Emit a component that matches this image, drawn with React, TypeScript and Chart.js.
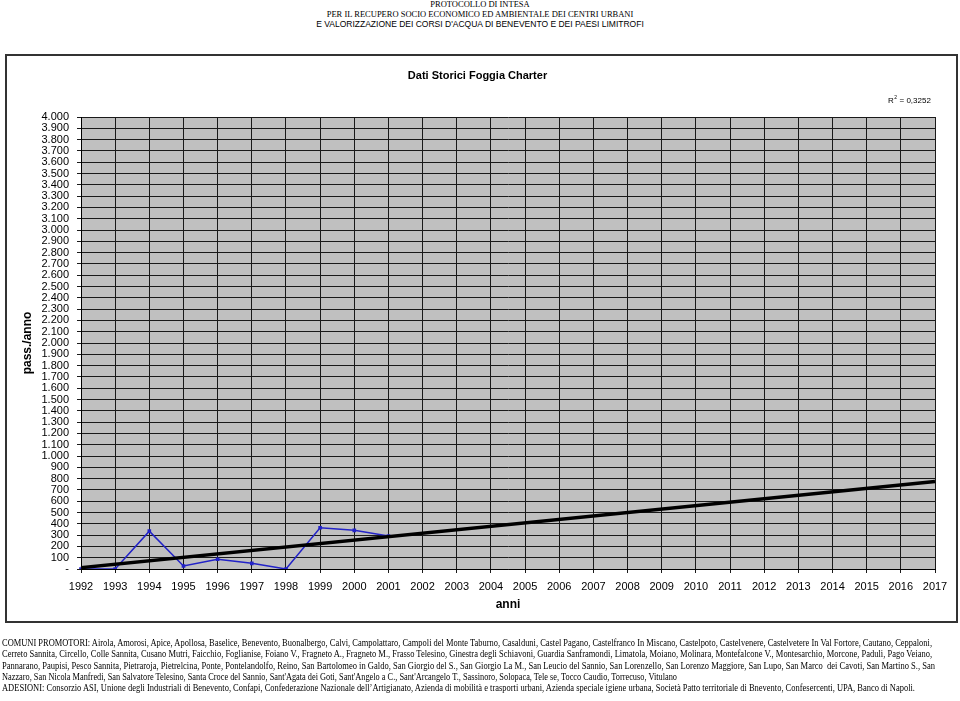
import React, { useEffect, useLayoutEffect, useRef } from 'react';
import { Chart, registerables } from 'chart.js';

Chart.register(...registerables);

// ---- data ----
const years = [
  '1992', '1993', '1994', '1995', '1996', '1997', '1998', '1999', '2000', '2001', '2002', '2003', '2004',
  '2005', '2006', '2007', '2008', '2009', '2010', '2011', '2012', '2013', '2014', '2015', '2016', '2017',
];
const passengers = [0, 0, 335, 27, 86, 50, 0, 365, 342, 292];
const trendEnds = [12, 775];
const rSquared = '0,3252';
const yMin = 0;
const yMax = 4000;
const yStep = 100;

const chartTitle = 'Dati Storici Foggia Charter';
const xTitle = 'anni';
const yTitle = 'pass./anno';

const headerLines = [
  'PROTOCOLLO DI INTESA',
  'PER IL RECUPERO SOCIO ECONOMICO ED AMBIENTALE DEI CENTRI URBANI',
  "E VALORIZZAZIONE DEI CORSI D'ACQUA DI BENEVENTO E DEI PAESI LIMITROFI",
];

const footerLines = [
  'COMUNI PROMOTORI: Airola, Amorosi, Apice, Apollosa, Baselice, Benevento, Buonalbergo, Calvi, Campolattaro, Campoli del Monte Taburno, Casalduni, Castel Pagano, Castelfranco In Miscano, Castelpoto, Castelvenere, Castelvetere In Val Fortore, Cautano, Ceppaloni,',
  'Cerreto Sannita, Circello, Colle Sannita, Cusano Mutri, Faicchio, Foglianise, Foiano V., Fragneto A., Fragneto M., Frasso Telesino, Ginestra degli Schiavoni, Guardia Sanframondi, Limatola, Moiano, Molinara, Montefalcone V., Montesarchio, Morcone, Paduli, Pago Veiano,',
  'Pannarano, Paupisi, Pesco Sannita, Pietraroja, Pietrelcina, Ponte, Pontelandolfo, Reino, San Bartolomeo in Galdo, San Giorgio del S., San Giorgio La M., San Leucio del Sannio, San Lorenzello, San Lorenzo Maggiore, San Lupo, San Marco  dei Cavoti, San Martino S., San',
  "Nazzaro, San Nicola Manfredi, San Salvatore Telesino, Santa Croce del Sannio, Sant'Agata dei Goti, Sant'Angelo a C., Sant'Arcangelo T., Sassinoro, Solopaca, Tele se, Tocco Caudio, Torrecuso, Vitulano",
  'ADESIONI: Consorzio ASI, Unione degli Industriali di Benevento, Confapi, Confederazione Nazionale dell\u2019Artigianato, Azienda di mobilità e trasporti urbani, Azienda speciale igiene urbana, Società Patto territoriale di Bnevento, Confesercenti, UPA, Banco di Napoli.',
];
const footerLineWidths = [930, 930, 933, 675, 913];

const formatThousands = (v: number) =>
  v === 0 ? '-' : String(v).replace(/\B(?=(\d{3})+(?!\d))/g, '.');

const plotBg = {
  id: 'plotBg',
  beforeDraw(chart: any) {
    const { ctx, chartArea } = chart;
    ctx.save();
    ctx.fillStyle = '#c0c0c0';
    ctx.fillRect(chartArea.left, chartArea.top, chartArea.right - chartArea.left, chartArea.bottom - chartArea.top);
    ctx.restore();
  },
};

const rSquaredLabel = {
  id: 'rSquaredLabel',
  afterDraw(chart: any) {
    const { ctx, chartArea } = chart;
    const x = chartArea.right - 47;
    const y = chartArea.top - 16;
    ctx.save();
    ctx.fillStyle = '#000';
    ctx.textBaseline = 'middle';
    ctx.textAlign = 'left';
    ctx.font = '8px "Liberation Sans", Arial, sans-serif';
    ctx.fillText('R', x, y);
    const rw = ctx.measureText('R').width;
    ctx.font = '5px "Liberation Sans", Arial, sans-serif';
    ctx.fillText('2', x + rw + 0.5, y - 3);
    ctx.font = '8px "Liberation Sans", Arial, sans-serif';
    ctx.fillText(' = ' + rSquared, x + rw + 3.5, y);
    ctx.restore();
  },
};

function ChartCanvas() {
  const ref = useRef<HTMLCanvasElement>(null);
  useEffect(() => {
    if (!ref.current) return;
    const trendData = years.map((_, i) =>
      i === 0 ? trendEnds[0] : i === years.length - 1 ? trendEnds[1] : null
    );
    const chart = new Chart(ref.current, {
      type: 'line',
      data: {
        labels: years,
        datasets: [
          {
            label: 'Tendenza',
            data: trendData,
            borderColor: '#000000',
            borderWidth: 3.5,
            pointRadius: 0,
            spanGaps: true,
            tension: 0,
          },
          {
            label: 'pass./anno',
            data: passengers,
            borderColor: '#2323c8',
            backgroundColor: '#2323c8',
            borderWidth: 1.5,
            pointRadius: 1.5,
            pointStyle: 'rect',
            tension: 0,
          },
        ],
      },
      options: {
        responsive: false,
        animation: false,
        layout: { padding: { left: 20, right: 25, top: 69, bottom: 88 } },
        plugins: {
          legend: { display: false },
          tooltip: { enabled: false },
          title: {
            display: true,
            text: chartTitle,
            color: '#000',
            font: { family: '"Liberation Sans", Arial, sans-serif', size: 11, weight: 'bold' },
            padding: { top: 0, bottom: 34.8 },
          },
        },
        scales: {
          x: {
            type: 'category',
            offset: false,
            afterFit(scale: any) {
              scale.height = 44;
            },
            grid: { color: '#1a1a1a', lineWidth: 1, drawTicks: true, tickLength: 4, offset: false },
            border: { display: true, color: '#000', width: 1 },
            ticks: {
              color: '#000',
              autoSkip: false,
              maxRotation: 0,
              minRotation: 0,
              padding: 7,
              font: { family: '"Liberation Sans", Arial, sans-serif', size: 11 },
            },
            title: {
              display: true,
              text: xTitle,
              color: '#000',
              font: { family: '"Liberation Sans", Arial, sans-serif', size: 12, weight: 'bold' },
              padding: { top: 0, bottom: 1 },
            },
          },
          y: {
            min: yMin,
            max: yMax,
            afterFit(scale: any) {
              scale.width = 61;
            },
            grid: { color: '#1a1a1a', lineWidth: 1, drawTicks: true, tickLength: 4 },
            border: { display: true, color: '#000', width: 1 },
            ticks: {
              stepSize: yStep,
              autoSkip: false,
              color: '#000',
              padding: 8,
              font: { family: '"Liberation Sans", Arial, sans-serif', size: 11 },
              callback: (v: any) => formatThousands(Number(v)),
            },
            title: {
              display: true,
              text: yTitle,
              color: '#000',
              font: { family: '"Liberation Sans", Arial, sans-serif', size: 12, weight: 'bold' },
              padding: { top: 0, bottom: 0 },
            },
          },
        },
      },
      plugins: [plotBg, rSquaredLabel],
    } as any);
    return () => chart.destroy();
  }, []);
  return (
    <canvas
      ref={ref}
      width={960}
      height={701}
      style={{ position: 'absolute', left: 0, top: 0, width: 960, height: 701 }}
    />
  );
}

function FittedLine({ text, width }: { text: string; width: number }) {
  const ref = useRef<HTMLSpanElement>(null);
  useLayoutEffect(() => {
    const el = ref.current;
    if (!el) return;
    el.style.transform = 'none';
    const w = el.getBoundingClientRect().width;
    if (w > 0) el.style.transform = `scaleX(${width / w})`;
  }, [text, width]);
  return (
    <div style={{ height: '11.3px', whiteSpace: 'pre' }}>
      <span
        ref={ref}
        style={{ display: 'inline-block', whiteSpace: 'pre', transformOrigin: '0 0' }}
      >
        {text}
      </span>
    </div>
  );
}

export default function App() {
  return (
    <div
      style={{
        position: 'fixed',
        left: 0,
        top: 0,
        width: 960,
        height: 701,
        overflow: 'hidden',
        background: '#ffffff',
      }}
    >
      <div
        style={{
          position: 'absolute',
          left: 0,
          top: 0,
          width: 960,
          textAlign: 'center',
          color: '#000',
          lineHeight: '9.8px',
          fontSize: 8.5,
        }}
      >
        <div style={{ fontFamily: '"Liberation Serif", "Times New Roman", serif' }}>{headerLines[0]}</div>
        <div style={{ fontFamily: '"Liberation Serif", "Times New Roman", serif' }}>{headerLines[1]}</div>
        <div style={{ fontFamily: '"Liberation Sans", Arial, sans-serif' }}>{headerLines[2]}</div>
      </div>
      <div
        style={{
          position: 'absolute',
          left: 5,
          top: 54,
          width: 953,
          height: 569,
          border: '2px solid #333',
          boxSizing: 'border-box',
        }}
      />
      <ChartCanvas />
      <div
        style={{
          position: 'absolute',
          left: 2,
          top: 638,
          width: 958,
          fontFamily: '"Liberation Serif", "Times New Roman", serif',
          fontSize: 9.5,
          lineHeight: '11.3px',
          color: '#000',
        }}
      >
        {footerLines.map((line, i) => (
          <FittedLine key={i} text={line} width={footerLineWidths[i]} />
        ))}
      </div>
    </div>
  );
}
